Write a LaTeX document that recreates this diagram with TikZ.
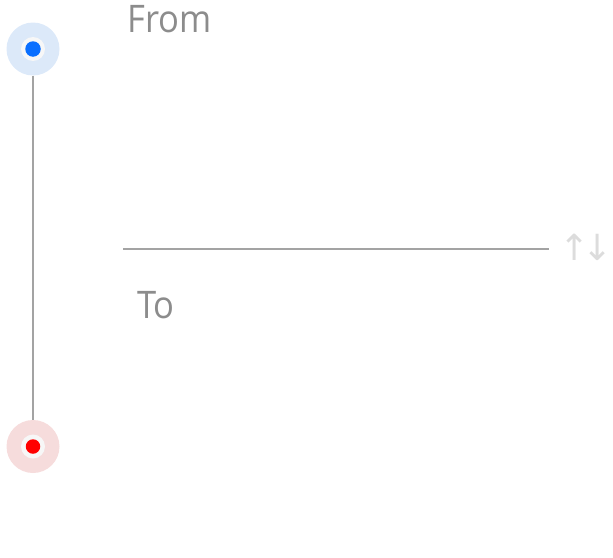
\documentclass[tikz,border=0pt]{standalone}
\usepackage{fontspec}
\setmainfont[FakeStretch=0.91]{Open Sans}
\newfontfamily\arrowfont{DejaVu Sans}
\definecolor{txtgray}{HTML}{8C8C8C}
\definecolor{linegray}{HTML}{A3A3A3}
\definecolor{arrgray}{HTML}{DCDCDC}
\definecolor{bluehalo}{HTML}{DCE9F9}
\definecolor{bluedot}{HTML}{0A6FFF}
\definecolor{redhalo}{HTML}{F6DCDC}
\definecolor{reddot}{HTML}{FF0000}
\definecolor{ringwhite}{HTML}{F7F7F7}
\tikzset{
  halo/.style={circle,inner sep=0pt,minimum size=53pt},
  ring/.style={circle,inner sep=0pt,minimum size=24pt,fill=ringwhite},
  dot/.style={circle,inner sep=0pt,minimum size=15.5pt},
  label/.style={inner sep=0pt,anchor=base west,text=txtgray,font=\fontsize{38}{40}\selectfont},
  rule/.style={draw=linegray,line width=1.3pt},
}
\begin{document}
\begin{tikzpicture}[x=1pt,y=-1pt]
\useasboundingbox (0,0) rectangle (613,557);
\node[halo,fill=bluehalo] (fromhalo) at (33,49) {};
\node[ring] (fromring) at (33,49) {};
\node[dot,fill=bluedot] (fromdot) at (33,49) {};
\node[halo,fill=redhalo] (tohalo) at (33,446.5) {};
\node[ring] (toring) at (33,446.5) {};
\node[dot,minimum size=14.5pt,fill=reddot] (todot) at (33,446.5) {};
\draw[rule] (fromhalo.south) -- (tohalo.north);
\coordinate (sepL) at (123,249);
\coordinate (sepR) at (549,249);
\draw[rule] (sepL) -- (sepR);
\node[label] (from) at (127,32.5) {From};
\node[label] (to) at (137,318) {To};
\node[inner sep=0pt,anchor=center,text=arrgray,font=\arrowfont\fontsize{36}{40}\selectfont] (swap) at (586,247) {↑\kern-7pt↓};
\end{tikzpicture}
\end{document}
